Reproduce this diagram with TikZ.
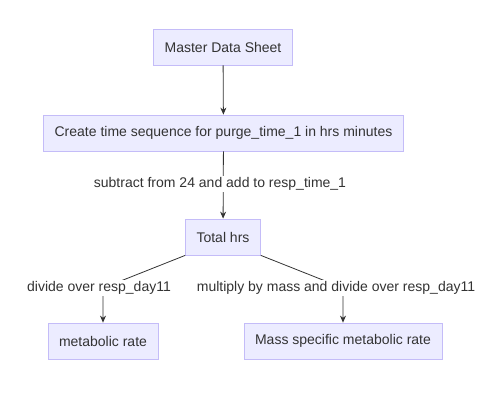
\documentclass[tikz,border=0pt]{standalone}
\usepackage{fontspec}
\setmainfont{Liberation Sans}
\usetikzlibrary{arrows.meta}
\definecolor{boxfill}{RGB}{236,236,255}
\definecolor{boxline}{RGB}{196,188,248}
\definecolor{ink}{RGB}{51,51,51}
\tikzset{
  box/.style={draw=boxline,fill=boxfill,text=ink,line width=0.8pt,
    inner xsep=11pt,minimum height=36pt,font=\fontsize{14pt}{17pt}\selectfont},
  lbl/.style={fill=white,text=ink,inner sep=1pt,font=\fontsize{14pt}{17pt}\selectfont},
  edge/.style={draw=ink,line width=0.8pt,-{Stealth[length=7pt,width=6pt]}}
}
\begin{document}
\begin{tikzpicture}[x=1pt,y=-1pt]
\useasboundingbox (0,0) rectangle (498,410);
\node[box] (mds) at (223,47) {Master Data Sheet};
\node[box] (seq) at (223.5,133) {Create time sequence for purge\_time\_1 in hrs minutes};
\node[box] (tot) at (223,237) {Total hrs};
\node[box] (met) at (103,341) {metabolic rate};
\node[box] (msm) at (343,341) {Mass specific metabolic rate};
\coordinate (k1) at (103,288);
\coordinate (k2) at (343,288);
\draw[edge] (mds) -- (seq);
\draw[edge] (seq) -- (tot);
\draw[edge] (tot.south west) -- (k1) -- (met.north);
\draw[edge] (tot.south east) -- (k2) -- (msm.north);
\node[lbl] (l1) at (220,184) {subtract from 24 and add to resp\_time\_1};
\node[lbl] (l2) at (99,288) {divide over resp\_day11};
\node[lbl] (l3) at (336,288) {multiply by mass and divide over resp\_day11};
\end{tikzpicture}
\end{document}
